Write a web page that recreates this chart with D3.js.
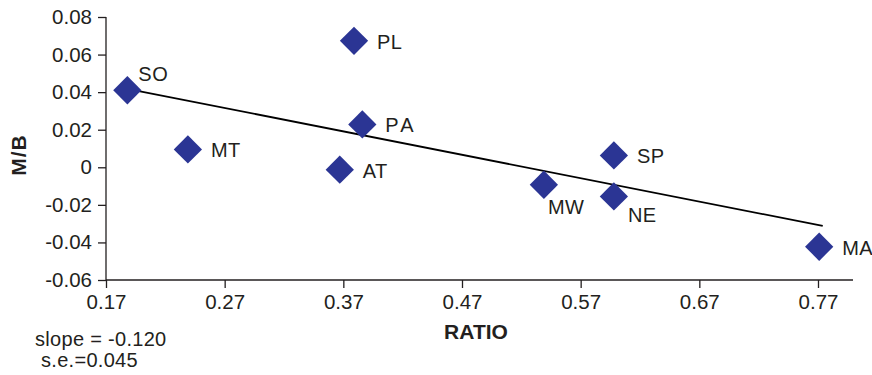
<!DOCTYPE html>
<html>
<head>
<meta charset="utf-8">
<script src="https://cdn.jsdelivr.net/npm/d3@7"></script>
<style>
  body { margin: 0; background: #fff; }
  text { font-family: "Liberation Sans", Arial, sans-serif; fill: #231f20; }
</style>
</head>
<body>
<svg id="chart" width="872" height="375"></svg>
<script>
// regions and their values
var regions = ['SO', 'MT', 'PL', 'PA', 'AT', 'MW', 'SP', 'NE', 'MA'];
var ratio   = [0.188, 0.239, 0.379, 0.386, 0.367, 0.539, 0.598, 0.598, 0.771];
var mb      = [0.041, 0.0095, 0.0673, 0.0228, -0.0013, -0.0093, 0.0063, -0.0155, -0.0423];
// where each label sits relative to its marker
var labelSide = ['above', 'right', 'right', 'right', 'right', 'below', 'right', 'belowRight', 'right'];

var xTicks = [0.17, 0.27, 0.37, 0.47, 0.57, 0.67, 0.77];
var yTicks = [0.08, 0.06, 0.04, 0.02, 0, -0.02, -0.04, -0.06];

// fitted line end points
var fitX = [0.188, 0.774];
var fitY = [0.0418, -0.0312];

var svg = d3.select('#chart');
var plotL = 106, plotR = 853, plotT = 17, plotB = 280;

var x = d3.scaleLinear().domain([0.17, 0.7995]).range([plotL, plotR]);
var y = d3.scaleLinear().domain([-0.06, 0.08]).range([plotB, plotT]);

// plain hyphen for negatives, like the original
var fmt2 = function(d){ return d === 0 ? '0' : d.toFixed(2); };

// y axis
var yAxis = svg.append('g')
	.attr('transform', 'translate(' + plotL + ',0)')
	.call(d3.axisLeft(y).tickValues(yTicks).tickFormat(fmt2).tickSize(8).tickPadding(6));
// x axis
var xAxis = svg.append('g')
	.attr('transform', 'translate(0,' + plotB + ')')
	.call(d3.axisBottom(x).tickValues(xTicks).tickFormat(fmt2).tickSize(8).tickPadding(6));

[xAxis, yAxis].forEach(function(ax){
	ax.select('.domain').attr('stroke', '#231f20').attr('stroke-width', 1.3);
	ax.selectAll('.tick line').attr('stroke', '#231f20').attr('stroke-width', 1.3);
	ax.selectAll('.tick text').style('font-size', '20.5px').attr('fill', '#231f20')
		.style('font-family', '"Liberation Sans", Arial, sans-serif');
});
// axis lines without the outer ticks
xAxis.select('.domain').attr('d', 'M' + plotL + ',0H' + plotR);
yAxis.select('.domain').attr('d', 'M0,' + plotT + 'V' + plotB);

// fitted line
svg.append('line')
	.attr('x1', x(fitX[0])).attr('y1', y(fitY[0]))
	.attr('x2', x(fitX[1])).attr('y2', y(fitY[1]))
	.attr('stroke', '#000').attr('stroke-width', 1.8);

// markers
var diamond = d3.symbol().type(d3.symbolSquare).size(400);
svg.selectAll('path.pt')
	.data(regions)
	.enter()
	.append('path')
	.attr('class', 'pt')
	.attr('d', diamond)
	.attr('fill', '#2b3594')
	.attr('transform', function(d, i){
		return 'translate(' + x(ratio[i]) + ',' + y(mb[i]) + ') rotate(45)';
	});

// point labels
var offsets = {
	right: [23, 1],
	above: [11, -16],
	below: [4, 22],
	belowRight: [14, 19]
};
svg.selectAll('text.lbl')
	.data(regions)
	.enter()
	.append('text')
	.attr('class', 'lbl')
	.attr('x', function(d, i){ return x(ratio[i]) + offsets[labelSide[i]][0]; })
	.attr('y', function(d, i){ return y(mb[i]) + offsets[labelSide[i]][1]; })
	.attr('dy', '0.35em')
	.style('font-size', '20px')
	.style('letter-spacing', function(d){ return d === 'PA' ? '3px' : '0.5px'; })
	.text(function(d){ return d; });

// axis titles
svg.append('text')
	.attr('transform', 'translate(26,155) rotate(-90)')
	.attr('text-anchor', 'middle')
	.style('font-size', '21px').style('font-weight', 'bold')
	.style('letter-spacing', '1px')
	.text('M/B');
svg.append('text')
	.attr('x', 476).attr('y', 339)
	.attr('text-anchor', 'middle')
	.style('font-size', '21px').style('font-weight', 'bold')
	.text('RATIO');

// regression note
svg.append('text').attr('x', 35).attr('y', 346).style('font-size', '20px')
	.style('letter-spacing', '0.3px').text('slope = -0.120');
svg.append('text').attr('x', 41).attr('y', 367).style('font-size', '20px')
	.style('letter-spacing', '0.3px').text('s.e.=0.045');
</script>
</body>
</html>
